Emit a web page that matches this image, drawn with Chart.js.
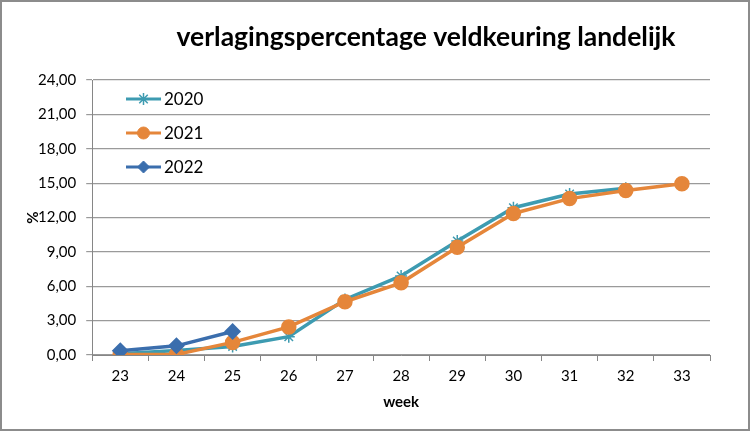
<!DOCTYPE html>
<html>
<head>
<meta charset="utf-8">
<script src="https://cdn.jsdelivr.net/npm/chart.js@4"></script>
<style>
  body { margin: 0; background: #fff; }
  #wrap { width: 750px; height: 431px; position: relative; }
</style>
</head>
<body>
<div id="wrap"><canvas id="myChart"></canvas></div>
<script>
const weeks = ["23", "24", "25", "26", "27", "28", "29", "30", "31", "32", "33"];
const y2020 = [0.1, 0.4, 0.75, 1.6, 4.85, 6.9, 9.95, 12.85, 14.05, 14.55, null];
const y2021 = [0.05, 0.05, 1.1, 2.45, 4.65, 6.3, 9.4, 12.35, 13.65, 14.35, 14.95];
const y2022 = [0.37, 0.8, 2.05];
const yTicks = [0, 3, 6, 9, 12, 15, 18, 21, 24];
const chartTitle = "verlagingspercentage veldkeuring landelijk";
const yTitle = "%";

const font = "Lato";
const teal = "#3d9bb1";
const orange = "#e5863a";
const blue = "#3b6ead";

// title, y title, legend inside the plot and outer border
const extras = {
  id: "extras",
  afterDraw(chart) {
    const c = chart.ctx;
    const area = chart.chartArea;
    c.save();
    c.strokeStyle = "#8c8c8c";
    c.lineWidth = 2;
    c.strokeRect(1, 1, 748, 429);

    c.fillStyle = "#000";
    c.font = "bold 26.5px " + font;
    c.textAlign = "center";
    c.textBaseline = "alphabetic";
    c.fillText(chartTitle, 426, 46);

    c.save();
    c.translate(33, (area.top + area.bottom) / 2);
    c.rotate(-Math.PI / 2);
    c.font = "bold 15px " + font;
    c.textBaseline = "middle";
    c.fillText(yTitle, 0, 0);
    c.restore();

    c.textAlign = "left";
    chart.data.datasets.forEach((ds, i) => {
      const y = 99 + i * 34;
      c.strokeStyle = ds.borderColor;
      c.fillStyle = ds.backgroundColor;
      c.lineWidth = 3;
      c.beginPath();
      c.moveTo(126, y);
      c.lineTo(161, y);
      c.stroke();
      c.lineWidth = ds.pointStyle === "star" ? 1.5 : 1;
      Chart.helpers.drawPoint(c, {
        pointStyle: ds.pointStyle,
        radius: ds.pointRadius,
        borderWidth: c.lineWidth,
        rotation: 0,
      }, 143.5, y);
      c.fillStyle = "#000";
      c.font = "17px " + font;
      c.textBaseline = "middle";
      c.fillText(ds.label, 164, y + 1);
    });
    c.restore();
  },
};

const ctx = document.getElementById("myChart").getContext("2d");
new Chart(ctx, {
  type: "line",
  data: {
    labels: weeks,
    datasets: [
      {
        label: "2020",
        data: y2020,
        borderColor: teal,
        backgroundColor: teal,
        borderWidth: 3.5,
        pointStyle: "star",
        pointRadius: 6,
        pointBorderWidth: 1.5,
        order: 2,
      },
      {
        label: "2021",
        data: y2021,
        borderColor: orange,
        backgroundColor: orange,
        borderWidth: 3.5,
        pointStyle: "circle",
        pointRadius: 6,
        order: 1,
      },
      {
        label: "2022",
        data: y2022,
        borderColor: blue,
        backgroundColor: blue,
        borderWidth: 3.5,
        pointStyle: "rectRot",
        pointRadius: 6,
        order: 0,
      },
    ],
  },
  options: {
    responsive: true,
    maintainAspectRatio: false,
    animation: false,
    layout: { padding: { top: 80, right: 40, bottom: 20, left: 28 } },
    plugins: {
      legend: { display: false },
      tooltip: { enabled: false },
      title: { display: false },
    },
    scales: {
      x: {
        offset: true,
        grid: { offset: true, drawOnChartArea: false, color: "#868686", tickLength: 6 },
        border: { color: "#868686" },
        ticks: { color: "#000", font: { family: font, size: 15 }, padding: 6 },
        title: {
          display: true,
          text: "week",
          color: "#000",
          font: { family: font, size: 15, weight: "bold" },
          padding: { top: 2, bottom: 0 },
        },
      },
      y: {
        min: 0,
        max: 24,
        afterBuildTicks: (axis) => { axis.ticks = yTicks.map((v) => ({ value: v })); },
        grid: { color: "#9a9a9a", lineWidth: 1.2, tickLength: 6 },
        border: { color: "#868686" },
        ticks: {
          color: "#000",
          font: { family: font, size: 15 },
          padding: 10,
          callback: (v) => v.toFixed(2).replace(".", ","),
        },
      },
    },
  },
  plugins: [extras],
});
</script>
</body>
</html>
